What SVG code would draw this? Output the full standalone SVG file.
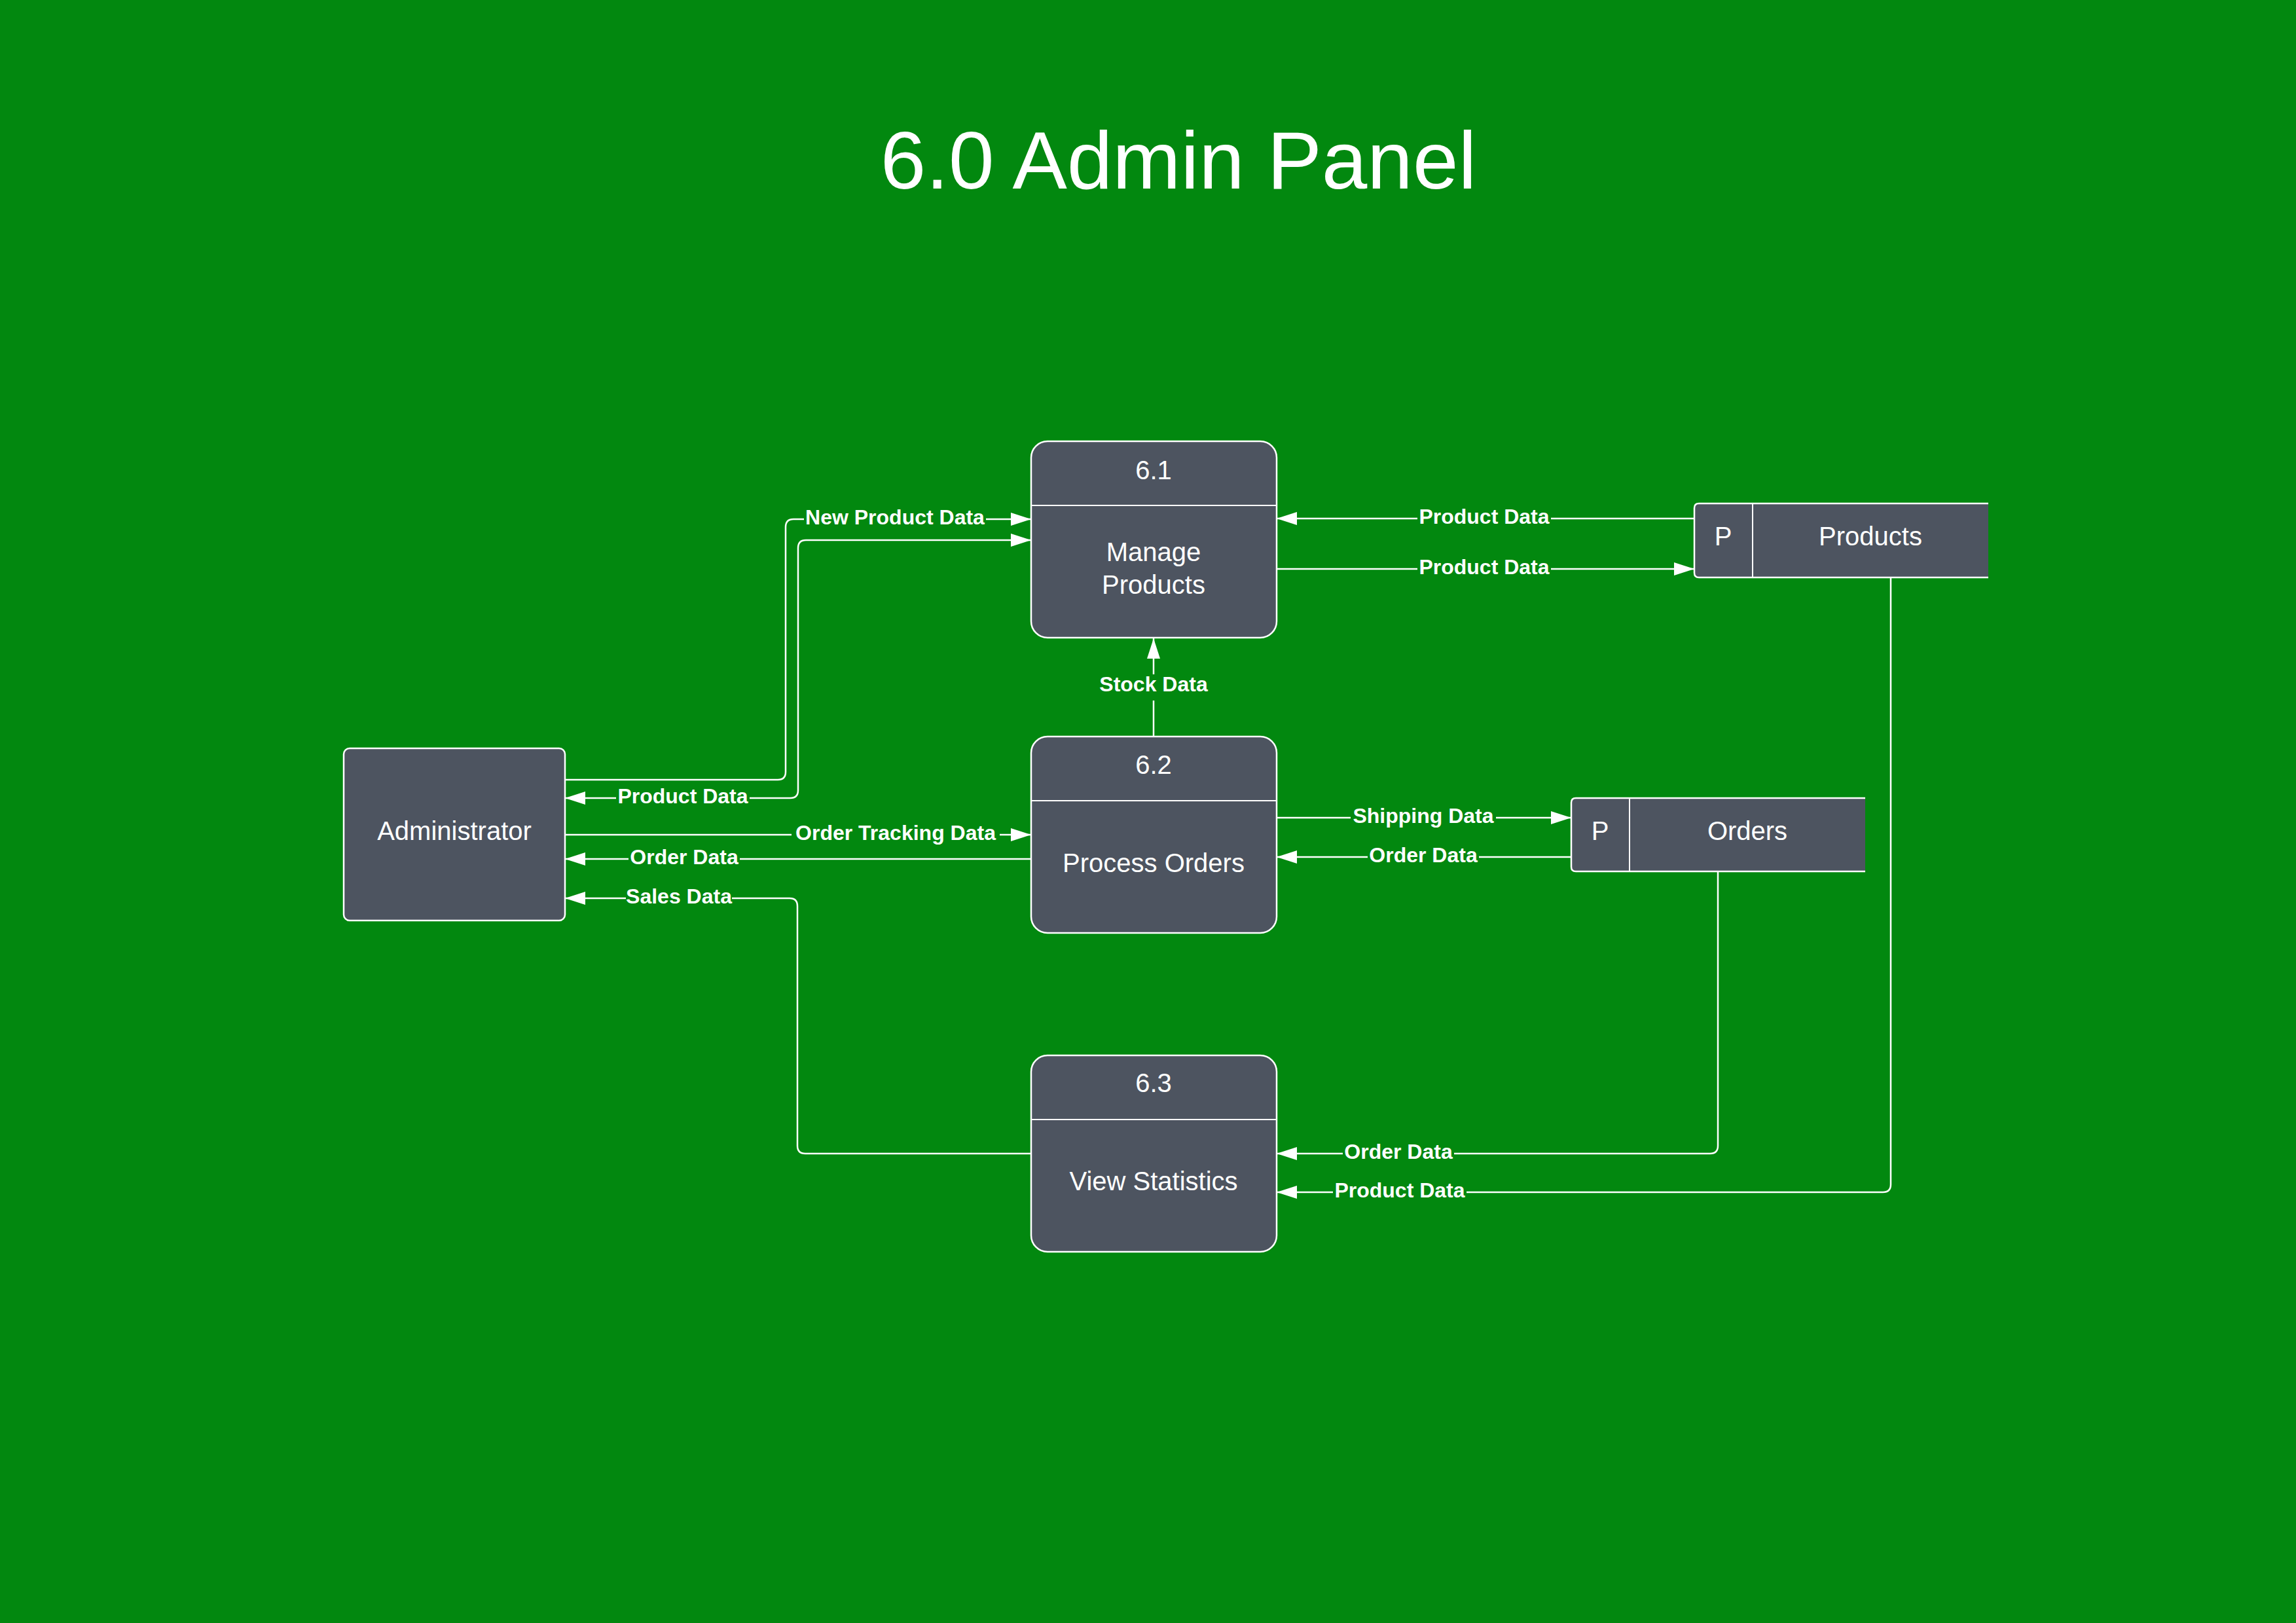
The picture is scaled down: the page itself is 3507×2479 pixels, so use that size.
<svg xmlns="http://www.w3.org/2000/svg" width="3507" height="2479" viewBox="0 0 3507 2479">
<style>
.node{fill:#4D5460;stroke:#FFFFFF;stroke-width:2.5}
.div{stroke:#FFFFFF;stroke-width:2}
.ntext{font-family:"Liberation Sans",Arial,sans-serif;font-size:40px;fill:#FFFFFF;text-anchor:middle}
.title{font-family:"Liberation Sans",Arial,sans-serif;font-size:125px;fill:#FFFFFF;text-anchor:middle}
.conn{fill:none;stroke:#FFFFFF;stroke-width:2.5}
.lbg{fill:#02880F}
.ltext{font-family:"Liberation Sans",Arial,sans-serif;font-size:32px;font-weight:bold;fill:#FFFFFF;text-anchor:middle}
</style>
<defs>
<marker id="arr" markerUnits="userSpaceOnUse" markerWidth="32" markerHeight="22" viewBox="0 0 32 22" refX="31" refY="11" orient="auto-start-reverse">
<path d="M0,1 L31,11 L0,21 Z" fill="#FFFFFF"/>
</marker>
</defs>
<rect x="0" y="0" width="3507" height="2479" fill="#02880F"/>
<text class="title" x="1800" y="288">6.0 Admin Panel</text>

<g id="connectors">
<path class="conn" d="M863,1191 H1188 Q1200,1191 1200,1179 V805 Q1200,793 1212,793 H1575" marker-end="url(#arr)"/>
<path class="conn" d="M1575,825 H1231 Q1219,825 1219,837 V1207 Q1219,1219 1207,1219 H863" marker-start="url(#arr)" marker-end="url(#arr)"/>
<path class="conn" d="M863,1275 H1575" marker-end="url(#arr)"/>
<path class="conn" d="M1575,1312 H863" marker-end="url(#arr)"/>
<path class="conn" d="M1575,1762 H1230 Q1218,1762 1218,1750 V1384 Q1218,1372 1206,1372 H863" marker-end="url(#arr)"/>
<path class="conn" d="M1762,1125 V975" marker-end="url(#arr)"/>
<path class="conn" d="M2588,792 H1950" marker-end="url(#arr)"/>
<path class="conn" d="M1950,869 H2588" marker-end="url(#arr)"/>
<path class="conn" d="M1950,1249 H2400" marker-end="url(#arr)"/>
<path class="conn" d="M2400,1309 H1950" marker-end="url(#arr)"/>
<path class="conn" d="M2624,1331 V1750 Q2624,1762 2612,1762 H1950" marker-end="url(#arr)"/>
<path class="conn" d="M2888,882 V1809 Q2888,1821 2876,1821 H1950" marker-end="url(#arr)"/>

<rect class="lbg" x="1228" y="776" width="278" height="34"/>
<text class="ltext" x="1367" y="801">New Product Data</text>
<rect class="lbg" x="941" y="1202" width="204" height="34"/>
<text class="ltext" x="1043" y="1227">Product Data</text>
<rect class="lbg" x="1209" y="1258" width="318" height="34"/>
<text class="ltext" x="1368" y="1283">Order Tracking Data</text>
<rect class="lbg" x="960" y="1295" width="170" height="34"/>
<text class="ltext" x="1045" y="1320">Order Data</text>
<rect class="lbg" x="956" y="1355" width="162" height="34"/>
<text class="ltext" x="1037" y="1380">Sales Data</text>
<rect class="lbg" x="1675" y="1030" width="174" height="40"/>
<text class="ltext" x="1762" y="1056">Stock Data</text>
<rect class="lbg" x="2165" y="775" width="204" height="34"/>
<text class="ltext" x="2267" y="800">Product Data</text>
<rect class="lbg" x="2165" y="852" width="204" height="34"/>
<text class="ltext" x="2267" y="877">Product Data</text>
<rect class="lbg" x="2063" y="1232" width="222" height="34"/>
<text class="ltext" x="2174" y="1257">Shipping Data</text>
<rect class="lbg" x="2089" y="1292" width="170" height="34"/>
<text class="ltext" x="2174" y="1317">Order Data</text>
<rect class="lbg" x="2051" y="1745" width="170" height="34"/>
<text class="ltext" x="2136" y="1770">Order Data</text>
<rect class="lbg" x="2036" y="1804" width="204" height="34"/>
<text class="ltext" x="2138" y="1829">Product Data</text>
</g>

<g id="administrator">
<rect class="node" x="525" y="1143" width="338" height="263" rx="9"/>
<text class="ntext" x="694" y="1283">Administrator</text>
</g>

<g id="p61">
<rect class="node" x="1575" y="674" width="375" height="300" rx="25"/>
<line class="div" x1="1575" y1="772" x2="1950" y2="772"/>
<text class="ntext" x="1762" y="732">6.1</text>
<text class="ntext" x="1762" y="857">Manage</text>
<text class="ntext" x="1762" y="907">Products</text>
</g>

<g id="p62">
<rect class="node" x="1575" y="1125" width="375" height="300" rx="25"/>
<line class="div" x1="1575" y1="1223" x2="1950" y2="1223"/>
<text class="ntext" x="1762" y="1182">6.2</text>
<text class="ntext" x="1762" y="1332">Process Orders</text>
</g>

<g id="p63">
<rect class="node" x="1575" y="1612" width="375" height="300" rx="25"/>
<line class="div" x1="1575" y1="1710" x2="1950" y2="1710"/>
<text class="ntext" x="1762" y="1668">6.3</text>
<text class="ntext" x="1762" y="1818">View Statistics</text>
</g>

<g id="products">
<path d="M3037,769 H2595 Q2588,769 2588,776 V875 Q2588,882 2595,882 H3037 Z" fill="#4D5460"/>
<path d="M3037,769 H2595 Q2588,769 2588,776 V875 Q2588,882 2595,882 H3037" class="conn"/>
<line class="div" x1="2677" y1="769" x2="2677" y2="882"/>
<text class="ntext" x="2632" y="833">P</text>
<text class="ntext" x="2857" y="833">Products</text>
</g>

<g id="orders">
<path d="M2849,1219 H2407 Q2400,1219 2400,1226 V1324 Q2400,1331 2407,1331 H2849 Z" fill="#4D5460"/>
<path d="M2849,1219 H2407 Q2400,1219 2400,1226 V1324 Q2400,1331 2407,1331 H2849" class="conn"/>
<line class="div" x1="2489" y1="1219" x2="2489" y2="1331"/>
<text class="ntext" x="2444" y="1283">P</text>
<text class="ntext" x="2669" y="1283">Orders</text>
</g>
</svg>
